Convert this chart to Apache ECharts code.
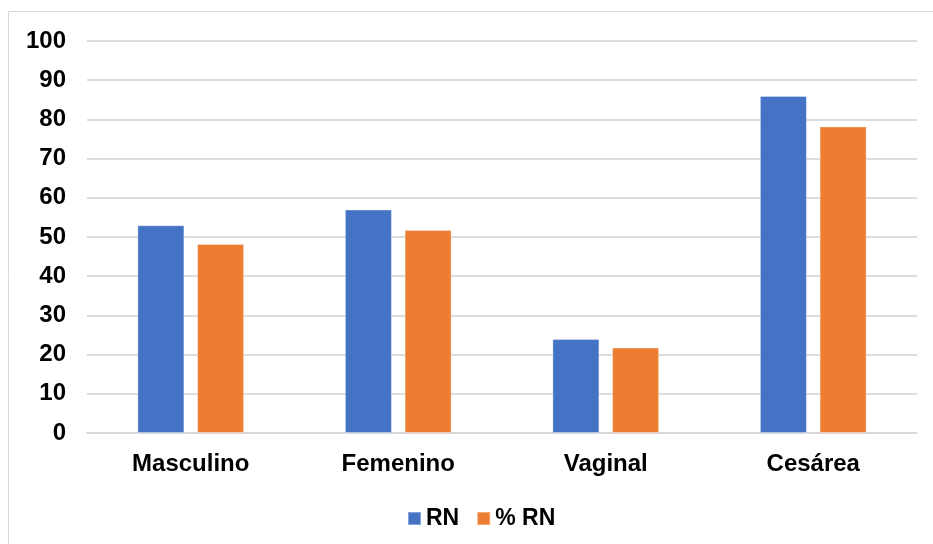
<!DOCTYPE html>
<html>
<head>
<meta charset="utf-8">
<script src="https://cdn.jsdelivr.net/npm/echarts@6/dist/echarts.min.js"></script>
<style>
  html, body { margin: 0; padding: 0; background: #fff; }
  #chart { width: 933px; height: 544px; }
</style>
</head>
<body>
<div id="chart"></div>
<script>
// Recién nacidos por sexo y tipo de parto
const categories = ['Masculino', 'Femenino', 'Vaginal', 'Cesárea'];
const rnValues = [53, 57, 24, 86];
const pctValues = [48.2, 51.8, 21.8, 78.2];
const seriesNames = ['RN', '% RN'];
const yTicks = { min: 0, max: 100, interval: 10 };

const FONT = 'Liberation Sans, Arial, sans-serif';
const chart = echarts.init(document.getElementById('chart'), null, { renderer: 'canvas' });

chart.setOption({
  backgroundColor: '#ffffff',
  animation: false,
  graphic: [{
    type: 'rect',
    shape: { x: 8.5, y: 11.5, width: 960, height: 560 },
    style: { fill: 'none', stroke: '#d9d9d9', lineWidth: 1 },
    silent: true
  }],
  grid: { left: 87, right: 16, top: 41, bottom: 111, containLabel: false },
  legend: {
    data: seriesNames,
    left: 402,
    top: 502,
    itemWidth: 13,
    itemHeight: 13,
    itemGap: 17,
    icon: 'rect',
    textStyle: { fontFamily: FONT, fontWeight: 'bold', fontSize: 23, color: '#000' }
  },
  xAxis: {
    type: 'category',
    data: categories,
    axisLine: { show: true, lineStyle: { color: '#d9d9d9', width: 2 } },
    axisTick: { show: false },
    axisLabel: { margin: 19, fontFamily: FONT, fontWeight: 'bold', fontSize: 24, color: '#000' }
  },
  yAxis: {
    type: 'value',
    min: yTicks.min,
    max: yTicks.max,
    interval: yTicks.interval,
    axisLine: { show: false },
    axisTick: { show: false },
    splitLine: { lineStyle: { color: '#dddddd', width: 2 } },
    axisLabel: { margin: 21, fontFamily: FONT, fontWeight: 'bold', fontSize: 24, color: '#000' }
  },
  series: [
    {
      name: seriesNames[0],
      type: 'bar',
      data: rnValues,
      barWidth: 47,
      barGap: '27%',
      itemStyle: { color: '#4472C4', borderColor: 'rgba(255,255,255,0.35)', borderWidth: 1 }
    },
    {
      name: seriesNames[1],
      type: 'bar',
      data: pctValues,
      barWidth: 47,
      barGap: '27%',
      itemStyle: { color: '#ED7D31', borderColor: 'rgba(255,255,255,0.35)', borderWidth: 1 }
    }
  ]
});
</script>
</body>
</html>
